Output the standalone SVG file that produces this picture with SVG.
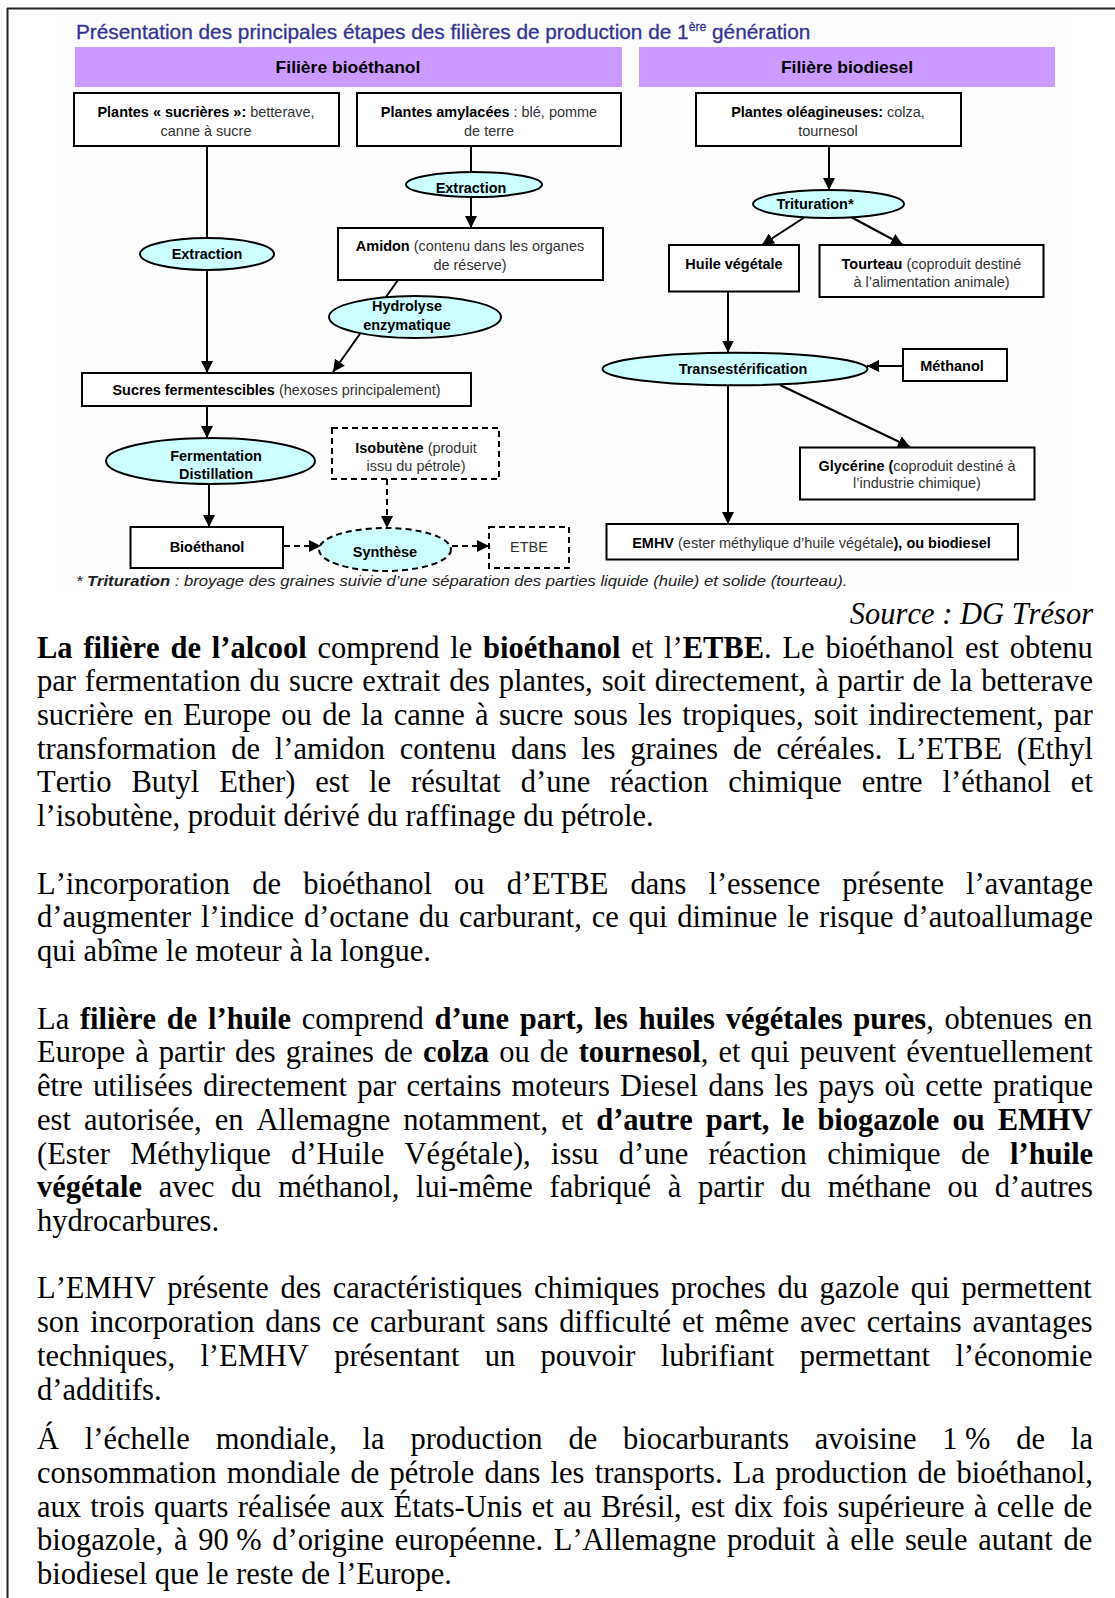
<svg xmlns="http://www.w3.org/2000/svg" width="1115" height="1598" viewBox="0 0 1115 1598">
<defs>
<style>
.d{font-family:"Liberation Sans",Arial,sans-serif;font-size:13.8px;fill:#333}
.b{font-weight:bold;fill:#000}
.hd{font-family:"Liberation Sans",Arial,sans-serif;font-size:16.5px;font-weight:bold;fill:#000}
.title{font-family:"Liberation Sans",Arial,sans-serif;font-size:20.5px;fill:#333399;stroke:#333399;stroke-width:0.3}
.fn{font-family:"Liberation Sans",Arial,sans-serif;font-size:15.5px;font-style:italic;fill:#222}
.box{fill:#fff;stroke:#000;stroke-width:2}
.dbox{fill:#fff;stroke:#000;stroke-width:2;stroke-dasharray:6 4}
.ell{fill:#ccffff;stroke:#000;stroke-width:2}
.dell{fill:#ccffff;stroke:#000;stroke-width:2;stroke-dasharray:6 4}
.hdr{fill:#cc99ff}
.cn{fill:none;stroke:#000;stroke-width:2;marker-end:url(#ah)}
.dcn{fill:none;stroke:#000;stroke-width:2;stroke-dasharray:6 4;marker-end:url(#ah)}
.t{font-family:"Liberation Serif","Times New Roman",serif;font-size:30.5px;fill:#000;font-kerning:none;font-variant-ligatures:none}
.bo{font-weight:bold}
</style>
<marker id="ah" markerUnits="userSpaceOnUse" markerWidth="12" markerHeight="12" refX="12" refY="6" orient="auto">
<path d="M0,0 L12,6 L0,12 z" fill="#000"/>
</marker>
<clipPath id="clipExt2"><ellipse cx="474" cy="184.5" rx="67" ry="11.5"/></clipPath>
<clipPath id="clipHyd"><ellipse cx="415" cy="317" rx="85" ry="20"/></clipPath>
<clipPath id="clipFer"><ellipse cx="210.5" cy="461" rx="103.5" ry="22"/></clipPath>
</defs>

<rect x="0" y="0" width="1115" height="1598" fill="#fff"/>
<rect x="62" y="10" width="1004" height="582" fill="#fdfdfd"/>
<g id="frame" stroke="#222" stroke-width="2">
<line x1="7" y1="8.5" x2="1115" y2="8.5"/>
<line x1="7.5" y1="8" x2="7.5" y2="1598"/>
</g>

<text id="title" class="title" transform="translate(76 39) scale(1.015 1)">Présentation des principales étapes des filières de production de 1<tspan font-size="12" dy="-8">ère</tspan><tspan dy="8"> génération</tspan></text>

<g id="hdr-bioethanol">
<rect class="hdr" x="75" y="47" width="547" height="40"/>
<text class="hd" text-anchor="middle" transform="translate(348 73) scale(1.06 1)">Filière bioéthanol</text>
</g>
<g id="hdr-biodiesel">
<rect class="hdr" x="639" y="47" width="416" height="40"/>
<text class="hd" text-anchor="middle" transform="translate(847 73) scale(1.06 1)">Filière biodiesel</text>
</g>

<g id="connectors">
<line class="cn" x1="207" y1="146" x2="207" y2="373"/>
<line class="cn" x1="471" y1="146" x2="471" y2="228"/>
<line class="cn" x1="398" y1="280" x2="333" y2="372"/>
<line class="cn" x1="207" y1="406" x2="207" y2="438"/>
<line class="cn" x1="209" y1="484" x2="209" y2="527"/>
<line class="dcn" x1="284" y1="546" x2="321" y2="546"/>
<line class="dcn" x1="452" y1="546" x2="489" y2="546"/>
<line class="dcn" x1="387" y1="479" x2="387" y2="528"/>
<line class="cn" x1="829" y1="146" x2="829" y2="190"/>
<line class="cn" x1="805" y1="217" x2="762" y2="245"/>
<line class="cn" x1="851" y1="217" x2="903" y2="245"/>
<line class="cn" x1="728" y1="291.5" x2="728" y2="352.5"/>
<line class="cn" x1="903" y1="366" x2="867" y2="366"/>
<line class="cn" x1="780" y1="385" x2="910" y2="447"/>
<line class="cn" x1="728" y1="385" x2="728" y2="524"/>
</g>

<g id="n-sucrieres">
<rect class="box" x="74" y="93" width="265" height="53"/>
<text class="d" text-anchor="middle" transform="translate(206 117) scale(1.05 1)"><tspan class="b">Plantes « sucrières »:</tspan> betterave,</text>
<text class="d" text-anchor="middle" transform="translate(206 135.5) scale(1.05 1)">canne à sucre</text>
</g>
<g id="n-amylacees">
<rect class="box" x="357" y="93" width="264" height="53"/>
<text class="d" text-anchor="middle" transform="translate(489 117) scale(1.05 1)"><tspan class="b">Plantes amylacées</tspan> : blé, pomme</text>
<text class="d" text-anchor="middle" transform="translate(489 135.5) scale(1.05 1)">de terre</text>
</g>
<g id="n-oleagineuses">
<rect class="box" x="696" y="93" width="265" height="53"/>
<text class="d" text-anchor="middle" transform="translate(828 117) scale(1.05 1)"><tspan class="b">Plantes oléagineuses:</tspan> colza,</text>
<text class="d" text-anchor="middle" transform="translate(828 135.5) scale(1.05 1)">tournesol</text>
</g>

<g id="n-extraction1">
<ellipse class="ell" cx="207" cy="254" rx="67" ry="16"/>
<text class="d b" text-anchor="middle" transform="translate(207 259) scale(1.05 1)">Extraction</text>
</g>
<g id="n-extraction2">
<ellipse class="ell" cx="474" cy="184.5" rx="68" ry="12.5"/>
<g clip-path="url(#clipExt2)"><text class="d b" text-anchor="middle" transform="translate(471 193) scale(1.05 1)">Extraction</text></g>
</g>
<g id="n-amidon">
<rect class="box" x="338" y="228" width="265" height="52"/>
<text class="d" text-anchor="middle" transform="translate(470 250.5) scale(1.05 1)"><tspan class="b">Amidon</tspan> (contenu dans les organes</text>
<text class="d" text-anchor="middle" transform="translate(470 270) scale(1.05 1)">de réserve)</text>
</g>
<g id="n-hydrolyse">
<ellipse class="ell" cx="415" cy="317" rx="86" ry="21"/>
<g clip-path="url(#clipHyd)">
<text class="d b" text-anchor="middle" transform="translate(407 310.5) scale(1.05 1)">Hydrolyse</text>
<text class="d b" text-anchor="middle" transform="translate(407 330) scale(1.05 1)">enzymatique</text>
</g>
</g>
<g id="n-sucres">
<rect class="box" x="82" y="373" width="389" height="33"/>
<text class="d" text-anchor="middle" transform="translate(276.5 395) scale(1.05 1)"><tspan class="b">Sucres fermentescibles</tspan> (hexoses principalement)</text>
</g>
<g id="n-fermentation">
<ellipse class="ell" cx="210.5" cy="461" rx="104.5" ry="23"/>
<g clip-path="url(#clipFer)">
<text class="d b" text-anchor="middle" transform="translate(216 460.5) scale(1.05 1)">Fermentation</text>
<text class="d b" text-anchor="middle" transform="translate(216 479) scale(1.05 1)">Distillation</text>
</g>
</g>
<g id="n-isobutene">
<rect class="dbox" x="332" y="428" width="167" height="51"/>
<text class="d" text-anchor="middle" transform="translate(416 452.5) scale(1.05 1)"><tspan class="b">Isobutène</tspan> (produit</text>
<text class="d" text-anchor="middle" transform="translate(416 470.5) scale(1.05 1)">issu du pétrole)</text>
</g>
<g id="n-bioethanol">
<rect class="box" x="130.5" y="527" width="152.5" height="41"/>
<text class="d b" text-anchor="middle" transform="translate(207 551.5) scale(1.05 1)">Bioéthanol</text>
</g>
<g id="n-synthese">
<ellipse class="dell" cx="385" cy="549.5" rx="66" ry="21.5"/>
<text class="d b" text-anchor="middle" transform="translate(385 556.5) scale(1.05 1)">Synthèse</text>
</g>
<g id="n-etbe">
<rect class="dbox" x="489" y="527" width="80" height="41"/>
<text class="d" text-anchor="middle" transform="translate(529 551.5) scale(1.05 1)">ETBE</text>
</g>

<g id="n-trituration">
<ellipse class="ell" cx="828.5" cy="204" rx="75.5" ry="14"/>
<text class="d b" text-anchor="middle" transform="translate(815 209) scale(1.05 1)">Trituration*</text>
</g>
<g id="n-huile">
<rect class="box" x="669" y="245" width="130" height="46.5"/>
<text class="d b" text-anchor="middle" transform="translate(734 269) scale(1.05 1)">Huile végétale</text>
</g>
<g id="n-tourteau">
<rect class="box" x="819.5" y="245" width="224" height="52"/>
<text class="d" text-anchor="middle" transform="translate(931.5 269) scale(1.05 1)"><tspan class="b">Tourteau</tspan> (coproduit destiné</text>
<text class="d" text-anchor="middle" transform="translate(931.5 286.5) scale(1.05 1)">à l’alimentation animale)</text>
</g>
<g id="n-transesterification">
<ellipse class="ell" cx="735" cy="369" rx="132.5" ry="16.3"/>
<text class="d b" text-anchor="middle" transform="translate(743 374) scale(1.05 1)">Transestérification</text>
</g>
<g id="n-methanol">
<rect class="box" x="903" y="349" width="104" height="32"/>
<text class="d b" text-anchor="middle" transform="translate(952 371) scale(1.05 1)">Méthanol</text>
</g>
<g id="n-glycerine">
<rect class="box" x="800" y="447.5" width="234.5" height="52"/>
<text class="d" text-anchor="middle" transform="translate(917 470.5) scale(1.05 1)"><tspan class="b">Glycérine (</tspan>coproduit destiné à</text>
<text class="d" text-anchor="middle" transform="translate(917 488) scale(1.05 1)">l’industrie chimique)</text>
</g>
<g id="n-emhv">
<rect class="box" x="606.5" y="524" width="411.5" height="35.5"/>
<text class="d" text-anchor="middle" transform="translate(811.5 548) scale(1.05 1)"><tspan class="b">EMHV</tspan> (ester méthylique d’huile végétale<tspan class="b">), ou biodiesel</tspan></text>
</g>

<text id="footnote" class="fn" transform="translate(76 586) scale(1.075 1)">* <tspan font-weight="bold">Trituration</tspan> : broyage des graines suivie d’une séparation des parties liquide (huile) et solide (tourteau).</text>

<g id="body">
<text class="t" x="1093" y="624" text-anchor="end" font-style="italic">Source : DG Trésor</text>
<text class="t" x="37" y="657.5" style="word-spacing:3.2px"><tspan class="bo">La filière de l’alcool</tspan> comprend le <tspan class="bo">bioéthanol</tspan> et l’<tspan class="bo">ETBE</tspan>. Le bioéthanol est obtenu</text>
<text class="t" x="37" y="691.2" style="word-spacing:1.3px">par fermentation du sucre extrait des plantes, soit directement, à partir de la betterave</text>
<text class="t" x="37" y="725" style="word-spacing:2.7px">sucrière en Europe ou de la canne à sucre sous les tropiques, soit indirectement, par</text>
<text class="t" x="37" y="758.7" style="word-spacing:7.1px">transformation de l’amidon contenu dans les graines de céréales. L’ETBE (Ethyl</text>
<text class="t" x="37" y="792.4" style="word-spacing:12.3px">Tertio Butyl Ether) est le résultat d’une réaction chimique entre l’éthanol et</text>
<text class="t" x="37" y="826.2">l’isobutène, produit dérivé du raffinage du pétrole.</text>

<text class="t" x="37" y="893.6" style="word-spacing:14.5px">L’incorporation de bioéthanol ou d’ETBE dans l’essence présente l’avantage</text>
<text class="t" x="37" y="927.3" style="word-spacing:2.2px">d’augmenter l’indice d’octane du carburant, ce qui diminue le risque d’autoallumage</text>
<text class="t" x="37" y="961.1">qui abîme le moteur à la longue.</text>

<text class="t" x="37" y="1028.5" style="word-spacing:3.1px">La <tspan class="bo">filière de l’huile</tspan> comprend <tspan class="bo">d’une part, les huiles végétales pures</tspan>, obtenues en</text>
<text class="t" x="37" y="1062.3" style="word-spacing:2.5px">Europe à partir des graines de <tspan class="bo">colza</tspan> ou de <tspan class="bo">tournesol</tspan>, et qui peuvent éventuellement</text>
<text class="t" x="37" y="1096" style="word-spacing:2.6px">être utilisées directement par certains moteurs Diesel dans les pays où cette pratique</text>
<text class="t" x="37" y="1129.7" style="word-spacing:5.4px">est autorisée, en Allemagne notamment, et <tspan class="bo">d’autre part, le biogazole ou EMHV</tspan></text>
<text class="t" x="37" y="1163.5" style="word-spacing:12.7px">(Ester Méthylique d’Huile Végétale), issu d’une réaction chimique de <tspan class="bo">l’huile</tspan></text>
<text class="t" x="37" y="1197.2" style="word-spacing:9px"><tspan class="bo">végétale</tspan> avec du méthanol, lui-même fabriqué à partir du méthane ou d’autres</text>
<text class="t" x="37" y="1230.9">hydrocarbures.</text>

<text class="t" x="37" y="1298.4" style="word-spacing:4px">L’EMHV présente des caractéristiques chimiques proches du gazole qui permettent</text>
<text class="t" x="37" y="1332.1" style="word-spacing:3.2px">son incorporation dans ce carburant sans difficulté et même avec certains avantages</text>
<text class="t" x="37" y="1365.8" style="word-spacing:17.7px">techniques, l’EMHV présentant un pouvoir lubrifiant permettant l’économie</text>
<text class="t" x="37" y="1399.6">d’additifs.</text>

<text class="t" x="37" y="1449.2" style="word-spacing:18.2px">Á l’échelle mondiale, la production de biocarburants avoisine 1<tspan dx="7.5">%</tspan> de la</text>
<text class="t" x="37" y="1482.9" style="word-spacing:2.6px">consommation mondiale de pétrole dans les transports. La production de bioéthanol,</text>
<text class="t" x="37" y="1516.6" style="word-spacing:1.7px">aux trois quarts réalisée aux États-Unis et au Brésil, est dix fois supérieure à celle de</text>
<text class="t" x="37" y="1550.4" style="word-spacing:3.1px">biogazole, à 90<tspan dx="7.5">%</tspan> d’origine européenne. L’Allemagne produit à elle seule autant de</text>
<text class="t" x="37" y="1584.1">biodiesel que le reste de l’Europe.</text>
</g>
</svg>
